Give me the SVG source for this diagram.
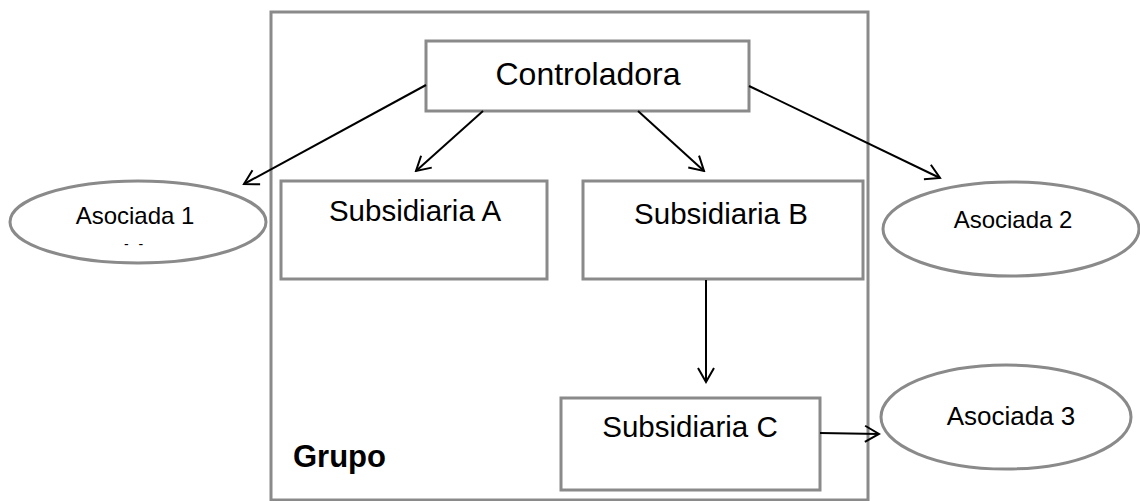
<svg xmlns="http://www.w3.org/2000/svg" width="1140" height="501" viewBox="0 0 1140 501">
<style>
.box{fill:#fff;stroke:#8a8a8a;stroke-width:3}
.ell{fill:#fff;stroke:#8a8a8a;stroke-width:3}
.t{font-family:"Liberation Sans",Arial,sans-serif;fill:#000;text-anchor:middle}
.c{stroke:#000;stroke-width:2;fill:none;marker-end:url(#arr)}
</style>
<defs>
<marker id="arr" viewBox="0 0 20 20" refX="18" refY="10" markerWidth="20" markerHeight="20" markerUnits="userSpaceOnUse" orient="auto">
<path d="M4,2 L18,10 L4,18" fill="none" stroke="#000" stroke-width="2"/>
</marker>
</defs>
<rect width="1140" height="501" fill="#fff"/>
<g id="grupo">
<rect class="box" x="271" y="12" width="597" height="488" fill="none"/>
<text class="t" x="293" y="467" style="text-anchor:start;font-weight:bold;font-size:31px">Grupo</text>
</g>
<g id="controladora">
<rect class="box" x="426" y="41" width="323" height="70"/>
<text class="t" x="588" y="85" font-size="32">Controladora</text>
</g>
<g id="subA">
<rect class="box" x="281" y="181" width="266" height="98"/>
<text class="t" x="415" y="221" font-size="29.5">Subsidiaria A</text>
</g>
<g id="subB">
<rect class="box" x="583" y="181" width="280" height="98"/>
<text class="t" x="721" y="224" font-size="29.5">Subsidiaria B</text>
</g>
<g id="subC">
<rect class="box" x="561" y="398" width="259" height="92"/>
<text class="t" x="690" y="437" font-size="29.5">Subsidiaria C</text>
</g>
<g id="asociada1">
<ellipse class="ell" cx="138" cy="222" rx="128" ry="41"/>
<text class="t" x="135" y="224" font-size="24">Asociada 1</text>
<text class="t" x="135" y="249" font-size="14" style="letter-spacing:3px">- -</text>
</g>
<g id="asociada2">
<ellipse class="ell" cx="1011" cy="229" rx="128" ry="47"/>
<text class="t" x="1013" y="228" font-size="24">Asociada 2</text>
</g>
<g id="asociada3">
<ellipse class="ell" cx="1006" cy="417" rx="125" ry="52"/>
<text class="t" x="1011" y="425" font-size="26">Asociada 3</text>
</g>
<g id="connectors">
<line class="c" x1="426" y1="85" x2="244" y2="184"/>
<line class="c" x1="483" y1="111" x2="416" y2="171"/>
<line class="c" x1="638" y1="111" x2="704" y2="171"/>
<line class="c" x1="749" y1="86" x2="940" y2="178"/>
<line class="c" x1="706" y1="280" x2="706" y2="382"/>
<line class="c" x1="820" y1="433" x2="879" y2="434"/>
</g>
</svg>
